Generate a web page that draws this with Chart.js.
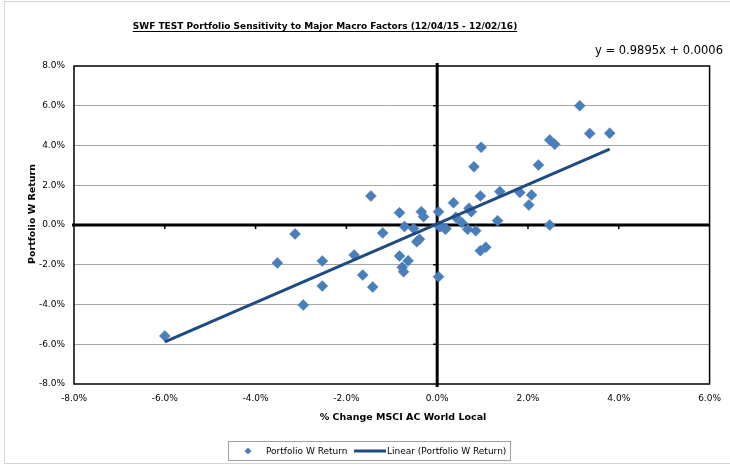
<!DOCTYPE html>
<html><head><meta charset="utf-8">
<script src="https://cdn.jsdelivr.net/npm/chart.js@4.4.1/dist/chart.umd.min.js"></script>
<style>html,body{margin:0;padding:0;background:#fff;}#wrap{width:730px;height:471px;position:relative;}</style>
</head><body><div id="wrap"><canvas id="c" width="730" height="471"></canvas></div>
<script>
const chartTitle = 'SWF TEST Portfolio Sensitivity to Major Macro Factors (12/04/15 - 12/02/16)';
const xAxisTitle = '% Change MSCI AC World Local';
const yAxisTitle = 'Portfolio W Return';
const seriesName = 'Portfolio W Return';
const trendName = 'Linear (Portfolio W Return)';
const equationLabel = 'y = 0.9895x + 0.0006';
const trendSlope = 0.9895;
const trendIntercept = 0.0006; // as fraction
// values in percent
const msciChange = [-6.00,-3.52,-3.13,-2.95,-2.53,-2.53,-1.83,-1.64,-1.46,-1.42,-1.20,-0.83,-0.83,-0.72,-0.77,-0.74,-0.64,-0.52,-0.45,-0.39,-0.35,-0.30,0.03,0.05,0.18,0.03,0.36,0.41,0.54,0.67,0.70,0.75,0.85,0.95,0.95,1.07,1.33,3.14,3.36,2.48,2.59,0.97,0.81,2.23,1.38,1.82,2.08,2.02,2.48,3.80,0.07,0.19];
const portfolioReturn = [-5.58,-1.91,-0.45,-4.03,-1.81,-3.07,-1.51,-2.52,1.46,-3.12,-0.40,0.62,-1.56,-0.08,-2.13,-2.35,-1.80,-0.17,-0.84,-0.72,0.67,0.42,0.67,-0.08,-0.22,-2.60,1.12,0.39,0.12,-0.22,0.84,0.67,-0.29,1.46,-1.29,-1.12,0.22,6.00,4.61,4.28,4.06,3.91,2.93,3.02,1.68,1.64,1.51,1.01,0.00,4.62,-0.08,-0.17];
const xTicks = [-8,-6,-4,-2,0,2,4,6];
const yTicks = [-8,-6,-4,-2,0,2,4,6,8];

const markerColor = '#4A7EBB';
const trendColor = '#1F4A82';
const FONT = '"DejaVu Sans", Verdana, sans-serif';

const points = msciChange.map((x, i) => ({x: x, y: portfolioReturn[i]}));
const xMin = Math.min(...msciChange), xMax = Math.max(...msciChange);
const trendPoints = [xMin, xMax].map(x => ({x: x, y: trendSlope * x + trendIntercept * 100}));

const decor = {
  id: 'decor',
  beforeDatasetsDraw(chart) {
    const {ctx, chartArea: a, scales: {x, y}} = chart;
    ctx.save();
    const y0 = y.getPixelForValue(0), x0 = x.getPixelForValue(0);
    ctx.strokeStyle = '#000';
    ctx.lineWidth = 3;
    ctx.beginPath();
    ctx.moveTo(a.left - 2, y0); ctx.lineTo(a.right, y0);
    ctx.moveTo(x0, a.top - 3); ctx.lineTo(x0, a.bottom + 3);
    ctx.stroke();
    ctx.lineWidth = 1.5;
    ctx.beginPath();
    xTicks.forEach(v => { if (v > -8 && v < 6 && v !== 0) { const px = x.getPixelForValue(v); ctx.moveTo(px, y0); ctx.lineTo(px, y0 + 4); } });
    yTicks.forEach(v => { if (v > -8 && v < 8 && v !== 0) { const py = y.getPixelForValue(v); ctx.moveTo(x0, py); ctx.lineTo(x0 - 4, py); } });
    ctx.stroke();
    ctx.restore();
  },
  afterDraw(chart) {
    const {ctx, chartArea: a} = chart;
    ctx.save();
    // outer chart border
    ctx.strokeStyle = '#d4d4d4';
    ctx.lineWidth = 1;
    ctx.strokeRect(4.5, 1.5, 740, 462);
    // plot frame
    ctx.strokeStyle = '#000';
    ctx.lineWidth = 1.5;
    ctx.strokeRect(a.left, a.top, a.right - a.left, a.bottom - a.top);
    // title
    ctx.fillStyle = '#000';
    ctx.font = 'bold 9px ' + FONT;
    ctx.textAlign = 'center';
    ctx.textBaseline = 'alphabetic';
    const tw = ctx.measureText(chartTitle).width;
    const tcx = 325, tby = 29;
    ctx.fillText(chartTitle, tcx, tby);
    ctx.lineWidth = 1;
    ctx.beginPath();
    ctx.moveTo(tcx - tw / 2, tby + 2.5); ctx.lineTo(tcx + tw / 2, tby + 2.5);
    ctx.stroke();
    // axis titles
    ctx.font = 'bold 9.5px ' + FONT;
    ctx.textBaseline = 'middle';
    ctx.fillText(xAxisTitle, 403, 418);
    ctx.save();
    ctx.translate(33, 214);
    ctx.rotate(-Math.PI / 2);
    ctx.fillText(yAxisTitle, 0, 0);
    ctx.restore();
    // equation
    ctx.font = '11.5px ' + FONT;
    ctx.textAlign = 'right';
    ctx.textBaseline = 'middle';
    ctx.fillText(equationLabel, 723, 51);
    // legend
    ctx.strokeStyle = '#a0a0a0';
    ctx.lineWidth = 1;
    ctx.strokeRect(228.5, 441.5, 282, 19);
    ctx.fillStyle = markerColor;
    ctx.beginPath();
    ctx.moveTo(248, 447.5); ctx.lineTo(251.5, 451); ctx.lineTo(248, 454.5); ctx.lineTo(244.5, 451); ctx.closePath();
    ctx.fill();
    ctx.fillStyle = '#000';
    ctx.font = '9px ' + FONT;
    ctx.textAlign = 'left';
    ctx.fillText(seriesName, 266, 451.5);
    ctx.strokeStyle = trendColor;
    ctx.lineWidth = 3;
    ctx.beginPath(); ctx.moveTo(354, 451); ctx.lineTo(386, 451); ctx.stroke();
    ctx.fillText(trendName, 387, 451.5);
    ctx.restore();
  }
};

new Chart(document.getElementById('c'), {
  type: 'scatter',
  data: {
    datasets: [
      { label: seriesName, data: points, backgroundColor: markerColor, borderColor: markerColor,
        pointStyle: 'rectRot', pointRadius: 5.5, pointBorderWidth: 0.5, order: 2 },
      { type: 'line', label: trendName, data: trendPoints, borderColor: trendColor, borderWidth: 3,
        pointRadius: 0, fill: false, showLine: true, order: 1 }
    ]
  },
  options: {
    responsive: false,
    animation: false,
    events: [],
    layout: { padding: { top: 66, right: 18, left: 0, bottom: 0 } },
    plugins: { legend: { display: false }, title: { display: false }, tooltip: { enabled: false } },
    scales: {
      x: {
        type: 'linear', min: -8, max: 6,
        afterBuildTicks: s => { s.ticks = xTicks.map(v => ({value: v})); },
        afterFit: s => { s.height = 87; },
        grid: { display: false, drawTicks: false },
        border: { display: false },
        ticks: { color: '#000', font: { family: FONT, size: 9 }, padding: 9, maxRotation: 0,
                 callback: v => v.toFixed(1) + '%' },
        title: { display: false, text: xAxisTitle }
      },
      y: {
        type: 'linear', min: -8, max: 8,
        afterBuildTicks: s => { s.ticks = yTicks.map(v => ({value: v})); },
        afterFit: s => { s.width = 74; },
        grid: { drawTicks: false, color: ctx => (ctx.tick && (ctx.tick.value === 0 || Math.abs(ctx.tick.value) === 8)) ? 'rgba(0,0,0,0)' : '#a6a6a6', lineWidth: 1 },
        border: { display: false },
        ticks: { color: '#000', font: { family: FONT, size: 9 }, padding: 9,
                 callback: v => v.toFixed(1) + '%' },
        title: { display: false, text: yAxisTitle }
      }
    }
  },
  plugins: [decor]
});
</script></body></html>
